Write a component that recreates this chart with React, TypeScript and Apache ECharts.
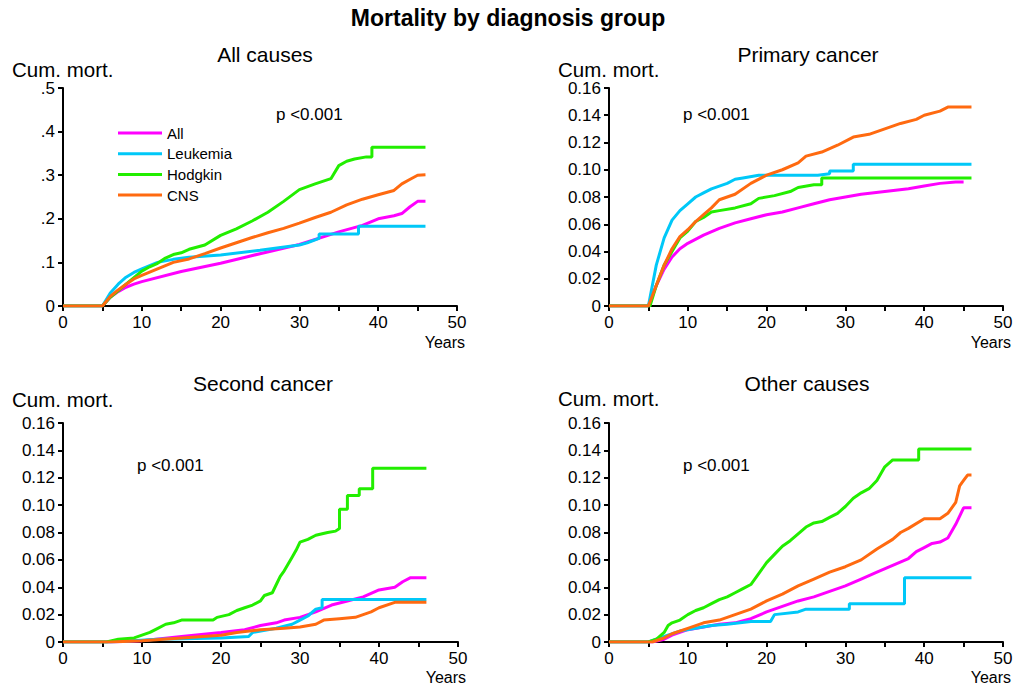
import React, { useEffect, useRef } from "react";
import * as echarts from "echarts";

const groupNames = ["All", "Leukemia", "Hodgkin", "CNS"];
const groupColors = ["#ff00ff", "#00c8f8", "#22ee00", "#ff6a10"];
const panelTitles = ["All causes", "Primary cancer", "Second cancer", "Other causes"];
const pValueText = "p <0.001";

// ---- All causes ----
const allCausesAllX = [0, 5, 6, 7, 8, 9, 10, 15, 20, 25, 30, 35, 38, 40, 42, 43, 44, 45, 46];
const allCausesAllY = [0, 0, 0.02, 0.033, 0.043, 0.05, 0.056, 0.079, 0.098, 0.12, 0.141, 0.17, 0.185, 0.2, 0.207, 0.212, 0.227, 0.24, 0.24];
const allCausesLeukX = [0, 5, 6, 7, 8, 9, 10, 12, 14, 16, 20, 25, 30, 31, 32.5, 32.5, 37.5, 37.5, 46];
const allCausesLeukY = [0, 0, 0.03, 0.05, 0.066, 0.077, 0.085, 0.1, 0.107, 0.112, 0.117, 0.128, 0.14, 0.145, 0.155, 0.165, 0.165, 0.183, 0.183];
const allCausesHodgX = [0, 5, 6, 7, 8, 9, 10, 11, 12, 13, 14, 15, 16, 18, 20, 22, 24, 26, 28, 30, 32, 34, 35, 36, 37, 38.5, 39.2, 39.2, 46];
const allCausesHodgY = [0, 0, 0.02, 0.035, 0.05, 0.065, 0.08, 0.09, 0.098, 0.11, 0.118, 0.122, 0.13, 0.14, 0.162, 0.177, 0.195, 0.215, 0.24, 0.267, 0.28, 0.292, 0.322, 0.332, 0.337, 0.342, 0.342, 0.364, 0.364];
const allCausesCnsX = [0, 5, 6, 7, 8, 9, 10, 12, 14, 16, 18, 20, 22, 24, 26, 28, 30, 32, 34, 36, 38, 40, 42, 43, 44, 45, 46];
const allCausesCnsY = [0, 0, 0.022, 0.037, 0.05, 0.062, 0.07, 0.085, 0.1, 0.108, 0.12, 0.133, 0.145, 0.157, 0.168, 0.178, 0.19, 0.203, 0.215, 0.232, 0.245, 0.255, 0.265, 0.28, 0.29, 0.3, 0.301];

// ---- Primary cancer ----
const primaryAllX = [0, 5, 6, 7, 8, 9, 10, 12, 14, 16, 18, 20, 22, 24, 26, 28, 30, 32, 35, 38, 40, 42, 44, 45];
const primaryAllY = [0, 0, 0.015, 0.027, 0.036, 0.042, 0.046, 0.052, 0.057, 0.061, 0.064, 0.067, 0.069, 0.072, 0.075, 0.078, 0.08, 0.082, 0.084, 0.086, 0.088, 0.09, 0.091, 0.091];
const primaryLeukX = [0, 5, 6, 7, 8, 9, 10, 11, 12, 13, 14, 15, 16, 17, 19, 26.5, 28, 28, 31, 31, 46];
const primaryLeukY = [0, 0, 0.03, 0.05, 0.063, 0.07, 0.075, 0.08, 0.083, 0.086, 0.088, 0.09, 0.093, 0.094, 0.096, 0.096, 0.097, 0.099, 0.099, 0.104, 0.104];
const primaryHodgX = [0, 5.2, 6, 7, 8, 9, 10, 11, 12, 13, 14, 16, 18, 19, 21, 23, 24, 26, 27, 27, 46];
const primaryHodgY = [0, 0, 0.015, 0.03, 0.04, 0.05, 0.055, 0.062, 0.065, 0.069, 0.07, 0.072, 0.075, 0.079, 0.081, 0.084, 0.087, 0.089, 0.089, 0.094, 0.094];
const primaryCnsX = [0, 5, 6, 7, 8, 9, 10, 11, 12, 13, 14, 16, 18, 20, 22, 24, 25, 27, 29, 31, 33, 35, 37, 39, 40, 42, 43, 46];
const primaryCnsY = [0, 0, 0.015, 0.03, 0.042, 0.051, 0.056, 0.062, 0.067, 0.072, 0.078, 0.082, 0.09, 0.096, 0.1, 0.105, 0.11, 0.113, 0.118, 0.124, 0.126, 0.13, 0.134, 0.137, 0.14, 0.143, 0.146, 0.146];

// ---- Second cancer ----
const secondAllX = [0, 6, 10, 15, 20, 23, 25, 27, 28, 30, 32, 34, 36, 38, 40, 42, 43, 44, 46];
const secondAllY = [0, 0, 0.001, 0.004, 0.007, 0.009, 0.012, 0.014, 0.016, 0.018, 0.022, 0.027, 0.03, 0.033, 0.038, 0.04, 0.044, 0.047, 0.047];
const secondLeukX = [0, 6, 12, 20, 23.5, 24, 27, 29, 30, 31, 32, 32.8, 32.8, 46];
const secondLeukY = [0, 0, 0.002, 0.003, 0.004, 0.007, 0.01, 0.013, 0.016, 0.019, 0.024, 0.025, 0.031, 0.031];
const secondHodgX = [0, 5.5, 7, 9, 10, 11, 12, 13, 14, 15, 19, 19.5, 21, 22, 23, 24, 25, 25.5, 26.5, 27, 27.5, 28, 28.5, 29, 29.5, 30, 31, 32, 33.5, 34.5, 35, 35, 36, 36, 37.5, 37.5, 39.2, 39.2, 46];
const secondHodgY = [0, 0, 0.002, 0.003, 0.005, 0.007, 0.01, 0.013, 0.014, 0.016, 0.016, 0.018, 0.02, 0.023, 0.025, 0.027, 0.03, 0.034, 0.036, 0.042, 0.048, 0.052, 0.057, 0.062, 0.067, 0.073, 0.075, 0.078, 0.08, 0.081, 0.083, 0.097, 0.097, 0.107, 0.107, 0.112, 0.112, 0.127, 0.127];
const secondCnsX = [0, 6, 10, 15, 20, 22, 25, 28, 30, 32, 33, 35, 37, 38, 39, 40, 42, 46];
const secondCnsY = [0, 0, 0.001, 0.003, 0.005, 0.007, 0.009, 0.01, 0.011, 0.013, 0.016, 0.017, 0.018, 0.02, 0.022, 0.025, 0.029, 0.029];

// ---- Other causes ----
const otherAllX = [0, 5.5, 7, 8, 10, 12, 14, 16, 18, 20, 22, 24, 26, 28, 30, 32, 34, 36, 38, 39, 40, 41, 42, 43, 44, 44.5, 45, 46];
const otherAllY = [0, 0, 0.002, 0.005, 0.009, 0.011, 0.013, 0.014, 0.017, 0.022, 0.026, 0.03, 0.033, 0.037, 0.041, 0.046, 0.051, 0.056, 0.061, 0.066, 0.069, 0.072, 0.073, 0.076, 0.086, 0.092, 0.098, 0.098];
const otherLeukX = [0, 5, 7, 9, 11, 13, 15, 18, 20.5, 21, 24, 25, 30.5, 30.5, 37.5, 37.5, 46];
const otherLeukY = [0, 0, 0.004, 0.008, 0.01, 0.012, 0.013, 0.015, 0.015, 0.02, 0.022, 0.024, 0.024, 0.028, 0.028, 0.047, 0.047];
const otherHodgX = [0, 5, 6, 7, 7.5, 8, 9, 10, 11, 12, 13, 14, 15, 16, 17, 18, 19, 20, 21, 22, 23, 24, 25, 26, 27, 28, 29, 30, 31, 32, 33, 34, 35, 36, 39.3, 39.3, 46];
const otherHodgY = [0, 0, 0.002, 0.007, 0.012, 0.014, 0.016, 0.02, 0.023, 0.025, 0.028, 0.031, 0.033, 0.036, 0.039, 0.042, 0.05, 0.058, 0.064, 0.07, 0.074, 0.079, 0.084, 0.087, 0.088, 0.091, 0.094, 0.099, 0.105, 0.109, 0.112, 0.118, 0.128, 0.133, 0.133, 0.141, 0.141];
const otherCnsX = [0, 5.5, 7, 8, 10, 12, 14, 16, 18, 20, 22, 24, 26, 28, 30, 32, 34, 36, 37, 38, 40, 42, 43, 44, 44.5, 45, 45.5, 46];
const otherCnsY = [0, 0, 0.003, 0.006, 0.01, 0.014, 0.016, 0.02, 0.024, 0.03, 0.035, 0.041, 0.046, 0.051, 0.055, 0.06, 0.068, 0.075, 0.08, 0.083, 0.09, 0.09, 0.094, 0.102, 0.114, 0.118, 0.122, 0.122];

const panelData = [
  [[allCausesAllX, allCausesAllY], [allCausesLeukX, allCausesLeukY], [allCausesHodgX, allCausesHodgY], [allCausesCnsX, allCausesCnsY]],
  [[primaryAllX, primaryAllY], [primaryLeukX, primaryLeukY], [primaryHodgX, primaryHodgY], [primaryCnsX, primaryCnsY]],
  [[secondAllX, secondAllY], [secondLeukX, secondLeukY], [secondHodgX, secondHodgY], [secondCnsX, secondCnsY]],
  [[otherAllX, otherAllY], [otherLeukX, otherLeukY], [otherHodgX, otherHodgY], [otherCnsX, otherCnsY]],
];
const yMax = [0.5, 0.16, 0.16, 0.16];
const yInterval = [0.1, 0.02, 0.02, 0.02];

const FONT = "Liberation Sans, Arial, sans-serif";

const grids = [
  { left: 63, top: 88, width: 394, height: 218 },
  { left: 609, top: 88, width: 394, height: 218 },
  { left: 63, top: 423, width: 395, height: 219 },
  { left: 609, top: 423, width: 394, height: 219 },
];
const titlePos = [
  { x: 265, y: 54 },
  { x: 808, y: 54 },
  { x: 263, y: 383 },
  { x: 807, y: 383 },
];
const cumPos = [
  { x: 12, y: 69 },
  { x: 558, y: 69 },
  { x: 12, y: 399 },
  { x: 558, y: 398 },
];
const yearsPos = [
  { x: 465, y: 342 },
  { x: 1011, y: 342 },
  { x: 466, y: 677 },
  { x: 1011, y: 677 },
];
const pPos = [
  { x: 276, y: 114 },
  { x: 683, y: 114 },
  { x: 137, y: 465 },
  { x: 683, y: 465 },
];

export default function App() {
  const ref = useRef<HTMLDivElement>(null);
  useEffect(() => {
    if (!ref.current) return;
    const chart = echarts.init(ref.current, null, { renderer: "svg" });
    const axisLine = { show: true, lineStyle: { color: "#000", width: 2 } };
    const xAxis = grids.map((_, i) => ({
      type: "value",
      gridIndex: i,
      min: 0,
      max: 50,
      interval: 10,
      axisLine,
      axisTick: { show: true, inside: false, length: 5, lineStyle: { color: "#000", width: 2 } },
      minorTick: { show: true, splitNumber: 2, length: 5, lineStyle: { color: "#000", width: 2 } },
      splitLine: { show: false },
      axisLabel: { color: "#000", fontSize: 17, fontFamily: FONT, margin: 8 },
    }));
    const yAxis = grids.map((_, i) => ({
      type: "value",
      gridIndex: i,
      min: 0,
      max: yMax[i],
      interval: yInterval[i],
      axisLine,
      axisTick: { show: true, inside: false, length: 5, lineStyle: { color: "#000", width: 2 } },
      splitLine: { show: false },
      axisLabel: {
        color: "#000",
        fontSize: 17,
        fontFamily: FONT,
        margin: 8,
        formatter: (v: number) => {
          if (Math.abs(v) < 1e-9) return "0";
          if (i === 0) return "." + Math.round(v * 10);
          return v.toFixed(2);
        },
      },
    }));
    const series: any[] = [];
    panelData.forEach((panel, pi) => {
      panel.forEach(([xs, ys], gi) => {
        series.push({
          type: "line",
          name: groupNames[gi],
          xAxisIndex: pi,
          yAxisIndex: pi,
          data: xs.map((x, k) => [x, ys[k]]),
          showSymbol: false,
          symbol: "none",
          lineStyle: { color: groupColors[gi], width: 3 },
          itemStyle: { color: groupColors[gi] },
          z: 2 + gi,
        });
      });
    });
    const texts: any[] = [];
    texts.push({
      type: "text",
      left: "center",
      top: 6,
      style: { text: "Mortality by diagnosis group", font: `bold 23px ${FONT}`, fill: "#000" },
    });
    panelTitles.forEach((t, i) => {
      texts.push({
        type: "text",
        x: titlePos[i].x,
        y: titlePos[i].y,
        style: { text: t, font: `21px ${FONT}`, fill: "#000", textAlign: "center", textVerticalAlign: "middle" },
      });
      texts.push({
        type: "text",
        x: cumPos[i].x,
        y: cumPos[i].y,
        style: {
          text: "Cum. mort.",
          font: `20.5px ${FONT}`,
          lineHeight: 16,
          fill: "#000",
          textAlign: "left",
          textVerticalAlign: "middle",
        },
      });
      texts.push({
        type: "text",
        x: yearsPos[i].x,
        y: yearsPos[i].y,
        style: { text: "Years", font: `16px ${FONT}`, fill: "#000", textAlign: "right", textVerticalAlign: "middle" },
      });
      texts.push({
        type: "text",
        x: pPos[i].x,
        y: pPos[i].y,
        style: { text: pValueText, font: `17px ${FONT}`, fill: "#000", textAlign: "left", textVerticalAlign: "middle" },
      });
    });
    chart.setOption({
      animation: false,
      backgroundColor: "#fff",
      grid: grids,
      xAxis,
      yAxis,
      legend: {
        data: groupNames.map((n) => ({ name: n, icon: "rect" })),
        orient: "vertical",
        left: 113,
        top: 120,
        itemWidth: 44,
        itemHeight: 3,
        itemGap: 4.7,
        textStyle: { fontSize: 15, lineHeight: 16, fontFamily: FONT, color: "#000", padding: 0 },
        selectedMode: false,
      },
      series,
      graphic: texts,
    });
    return () => chart.dispose();
  }, []);
  return (
    <div
      ref={ref}
      style={{ position: "fixed", left: 0, top: 0, width: 1016, height: 688, background: "#fff" }}
    />
  );
}
